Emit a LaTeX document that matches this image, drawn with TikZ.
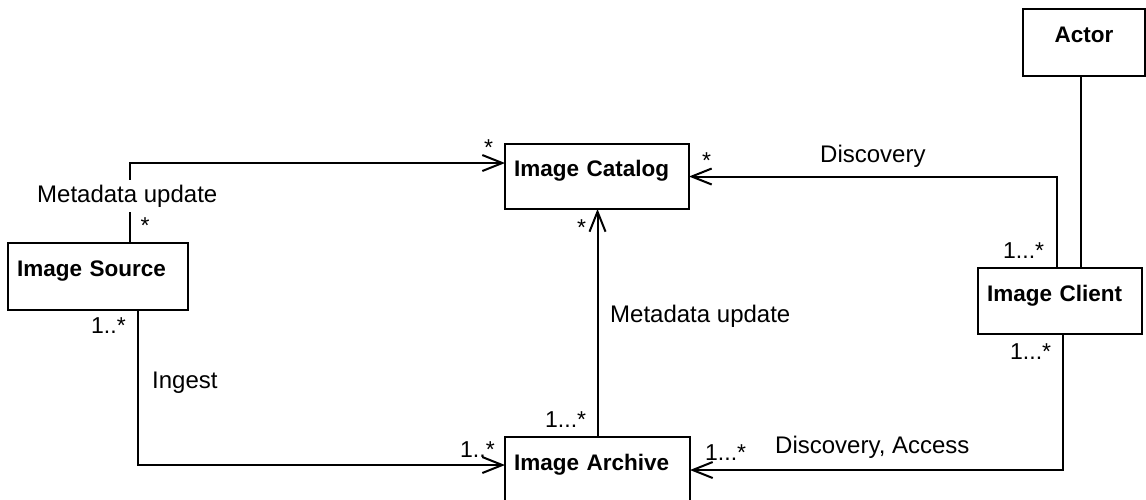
\documentclass[tikz,border=0pt]{standalone}
\usepackage{fontspec}
\setmainfont{Liberation Sans}
\usetikzlibrary{arrows.meta}
\tikzset{
  box/.style={draw, line width=2pt, rectangle, outer sep=0pt, inner ysep=0pt, inner xsep=9pt,
    text height=8pt, text depth=8pt, align=left,
    font=\fontsize{22.5}{26}\selectfont\bfseries},
  assoc/.style={line width=2pt, -{Straight Barb[length=20pt,width=16pt]}},
  plain/.style={line width=2pt},
  lbl/.style={inner sep=0pt, anchor=base west, font=\fontsize{24}{28}\selectfont},
  mult/.style={inner sep=0pt, anchor=base west, font=\fontsize{23}{27}\selectfont},
}
\begin{document}
\begin{tikzpicture}[x=1pt,y=-1pt]
\useasboundingbox (0,0) rectangle (1146,499);
% boxes
\node[box, minimum width=180pt, minimum height=67pt, text width=162pt] (src) at (98,276.5) {Image Source};
\node[box, minimum width=184pt, minimum height=65pt, text width=166pt] (cat) at (597,176.5) {Image Catalog};
\node[box, minimum width=185pt, minimum height=66pt, text width=167pt] (arc) at (597.5,470) {Image Archive};
\node[box, minimum width=164pt, minimum height=66pt, text width=146pt] (cl) at (1060,301) {Image Client};
\node[box, minimum width=122pt, minimum height=67pt, text width=104pt, align=center] (act) at (1084,42.5) {Actor};
% connectors
\draw[assoc] ([xshift=122pt]src.north west) |- ([yshift=-19pt]cat.north west);
\draw[assoc] (arc.north) -- (arc.north |- cat.south);
\draw[assoc] ([xshift=-3pt]cl.north) |- (cat.east);
\draw[assoc] ([xshift=3pt]cl.south) |- (arc.east);
\draw[assoc] ([xshift=130pt]src.south west) |- ([yshift=5pt]arc.west);
\draw[plain] ([xshift=-3pt]act.south) -- ([xshift=-3pt]act.south |- cl.north);
% labels
\node[lbl, fill=white, inner ysep=5pt] (l1) at (37,202) {Metadata update};
\node[mult] (m1) at (140.5,233) {*};
\node[mult] (m2) at (484,155) {*};
\node[mult] (m3) at (577,235) {*};
\node[lbl] (l2) at (610,322) {Metadata update};
\node[mult] (m4) at (702,168) {*};
\node[lbl] (l3) at (820,162) {Discovery};
\node[mult] (m5) at (1003,258) {1...*};
\node[mult] (m6) at (1010,359) {1...*};
\node[lbl] (l4) at (775,453) {Discovery, Access};
\node[mult] (m7) at (705,460) {1...*};
\node[mult] (m8) at (91,333) {1..*};
\node[lbl] (l5) at (152,388) {Ingest};
\node[mult] (m9) at (545,427) {1...*};
\node[mult] (m10) at (460,457) {1..*};
\end{tikzpicture}
\end{document}
